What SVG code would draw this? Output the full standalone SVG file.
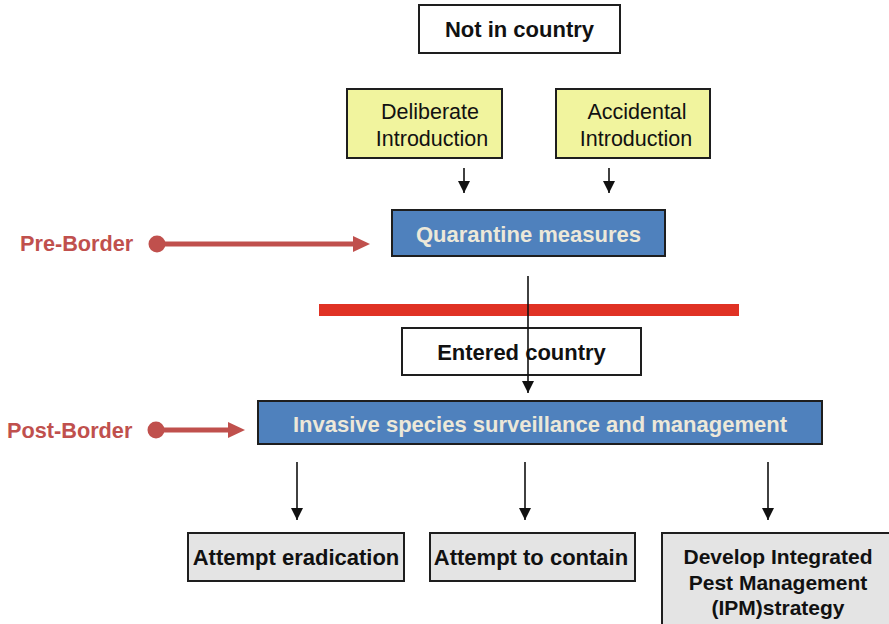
<svg xmlns="http://www.w3.org/2000/svg" width="889" height="624" viewBox="0 0 889 624">
  <style>
    .box { stroke: #1e1e1e; stroke-width: 2; }
    .white { fill: #ffffff; }
    .yellow { fill: #f1f49e; }
    .blue { fill: #4f81bd; }
    .grey { fill: #e4e4e4; }
    .bold { font-family: "Liberation Sans", Arial, sans-serif; font-weight: bold; font-size: 22px; text-anchor: middle; fill: #111111; }
    .small { font-size: 21px; }
    .plain { font-family: "Liberation Sans", Arial, sans-serif; font-size: 21.5px; text-anchor: middle; fill: #111111; }
    .onblue { fill: #ece8d9; }
    .side { font-family: "Liberation Sans", Arial, sans-serif; font-weight: bold; font-size: 21.7px; fill: #c0504d; }
    .flow { stroke: #111111; stroke-width: 1.6; fill: none; }
    .entry { stroke: #c0504d; stroke-width: 5; fill: none; }
  </style>
  <defs>
    <marker id="arrow" viewBox="0 0 12 12" refX="12" refY="6" markerWidth="12" markerHeight="12" markerUnits="userSpaceOnUse" orient="auto">
      <path d="M0,0 L12,6 L0,12 z" fill="#111111"/>
    </marker>
    <marker id="redArrow" viewBox="0 0 17 16" refX="0" refY="8" markerWidth="17" markerHeight="16" markerUnits="userSpaceOnUse" orient="auto">
      <path d="M0,0 L17,8 L0,16 z" fill="#c0504d"/>
    </marker>
  </defs>

  <!-- border line between pre- and post-entry stages -->
  <rect x="319" y="304" width="420" height="12" fill="#e03224"/>

  <g id="not-in-country">
    <rect class="box white" x="419" y="5" width="201" height="48"/>
    <text class="bold" x="519.5" y="37">Not in country</text>
  </g>

  <g id="deliberate-introduction">
    <rect class="box yellow" x="347" y="89" width="155" height="69"/>
    <text class="plain" x="430" y="119">Deliberate</text>
    <text class="plain" x="432" y="146">Introduction</text>
  </g>

  <g id="accidental-introduction">
    <rect class="box yellow" x="556" y="89" width="154" height="69"/>
    <text class="plain" x="637" y="119">Accidental</text>
    <text class="plain" x="636" y="146">Introduction</text>
  </g>

  <g id="quarantine-measures">
    <rect class="box blue" x="392" y="210" width="273" height="46"/>
    <text class="bold onblue" x="528.5" y="242">Quarantine measures</text>
  </g>

  <g id="entered-country">
    <rect class="box white" x="402" y="328" width="239" height="47"/>
    <text class="bold" x="521.5" y="360">Entered country</text>
  </g>

  <g id="surveillance-management">
    <rect class="box blue" x="258" y="401" width="564" height="43"/>
    <text class="bold onblue" x="540" y="432">Invasive species surveillance and management</text>
  </g>

  <g id="attempt-eradication">
    <rect class="box grey" x="188" y="533" width="216" height="48"/>
    <text class="bold" x="296" y="565">Attempt eradication</text>
  </g>

  <g id="attempt-contain">
    <rect class="box grey" x="430" y="533" width="205" height="48"/>
    <text class="bold" x="531" y="565">Attempt to contain</text>
  </g>

  <g id="ipm-strategy">
    <rect class="box grey" x="662" y="533" width="240" height="100"/>
    <text class="bold small" x="778" y="564">Develop Integrated</text>
    <text class="bold small" x="778" y="590">Pest Management</text>
    <text class="bold small" x="778" y="615">(IPM)strategy</text>
  </g>

  <g id="pre-border">
    <text class="side" x="20" y="251">Pre-Border</text>
  </g>

  <g id="post-border">
    <text class="side" x="7" y="438">Post-Border</text>
  </g>

  <g id="connectors">
    <line class="flow" x1="464" y1="168" x2="464" y2="193" marker-end="url(#arrow)"/>
    <line class="flow" x1="609" y1="168" x2="609" y2="193" marker-end="url(#arrow)"/>
    <line class="flow" x1="528" y1="276" x2="528" y2="393" marker-end="url(#arrow)"/>
    <line class="flow" x1="297" y1="462" x2="297" y2="520" marker-end="url(#arrow)"/>
    <line class="flow" x1="525" y1="462" x2="525" y2="520" marker-end="url(#arrow)"/>
    <line class="flow" x1="768" y1="462" x2="768" y2="520" marker-end="url(#arrow)"/>

    <circle cx="157" cy="244" r="8.5" fill="#c0504d"/>
    <line class="entry" x1="157" y1="244" x2="353" y2="244" marker-end="url(#redArrow)"/>
    <circle cx="156" cy="430" r="8.5" fill="#c0504d"/>
    <line class="entry" x1="156" y1="430" x2="228" y2="430" marker-end="url(#redArrow)"/>
  </g>
</svg>
